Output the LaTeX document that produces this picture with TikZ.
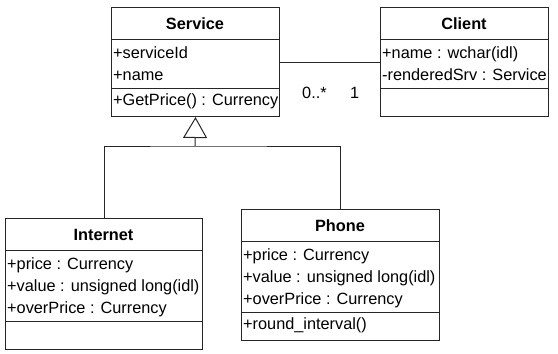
\documentclass[tikz,border=0pt]{standalone}
\usepackage{fontspec}
\setmainfont{Liberation Sans}
\usetikzlibrary{arrows.meta}
\begin{document}
\begin{tikzpicture}[x=1pt,y=-1pt,
  cls/.style={draw=black!85, line width=1pt, rectangle, anchor=north west, inner sep=0pt},
  txt/.style={anchor=base west, inner sep=0pt, font=\fontsize{16.3}{19}\selectfont},
  ttl/.style={anchor=base, inner sep=0pt, font=\fontsize{16.3}{19}\selectfont\bfseries},
  ln/.style={draw=black!85, line width=1pt}]
\useasboundingbox (0,0) rectangle (558,354);
% Service
\node[cls, minimum width=168pt, minimum height=109pt] (service) at (111,7) {};
\node[ttl] (serviceT) at (195,29.5) {Service};
\draw[ln] (service.west |- 0,39) -- (service.east |- 0,39);
\draw[ln] (service.west |- 0,88) -- (service.east |- 0,88);
\node[txt] (serviceA1) at (113,58) {+serviceId};
\node[txt] (serviceA2) at (113,80) {+name};
\node[txt] (serviceM1) at (113,105) {+GetPrice() : Currency};
% Client
\node[cls, minimum width=168pt, minimum height=109pt] (client) at (380,7) {};
\node[ttl] (clientT) at (464,29.5) {Client};
\draw[ln] (client.west |- 0,39) -- (client.east |- 0,39);
\draw[ln] (client.west |- 0,88) -- (client.east |- 0,88);
\node[txt] (clientA1) at (382,58) {+name : wchar(idl)};
\node[txt] (clientA2) at (382,80) {-renderedSrv : Service};
% Internet
\node[cls, minimum width=197pt, minimum height=131pt] (internet) at (5,218) {};
\node[ttl] (internetT) at (103.5,240.5) {Internet};
\draw[ln] (internet.west |- 0,250) -- (internet.east |- 0,250);
\draw[ln] (internet.west |- 0,321) -- (internet.east |- 0,321);
\node[txt] (internetA1) at (7,269) {+price : Currency};
\node[txt] (internetA2) at (7,291) {+value : unsigned long(idl)};
\node[txt] (internetA3) at (7,313) {+overPrice : Currency};
% Phone
\node[cls, minimum width=198pt, minimum height=131pt] (phone) at (241,209) {};
\node[ttl] (phoneT) at (340,231.5) {Phone};
\draw[ln] (phone.west |- 0,241) -- (phone.east |- 0,241);
\draw[ln] (phone.west |- 0,312) -- (phone.east |- 0,312);
\node[txt] (phoneA1) at (243,260) {+price : Currency};
\node[txt] (phoneA2) at (243,282) {+value : unsigned long(idl)};
\node[txt] (phoneA3) at (243,304) {+overPrice : Currency};
\node[txt] (phoneM1) at (243,329) {+round\_interval()};
% Association
\draw[ln] (service.east) -- (client.west);
\node[txt] (mult1) at (302,98) {0..*};
\node[txt] (mult2) at (350,98) {1};
% Generalization
\coordinate (junc) at (195,146);
\draw[ln] (internet.north) |- (junc) -| (phone.north);
\draw[ln, -{Triangle[open, length=21pt, width=24pt]}] (junc) -- (service.south);
\end{tikzpicture}
\end{document}
